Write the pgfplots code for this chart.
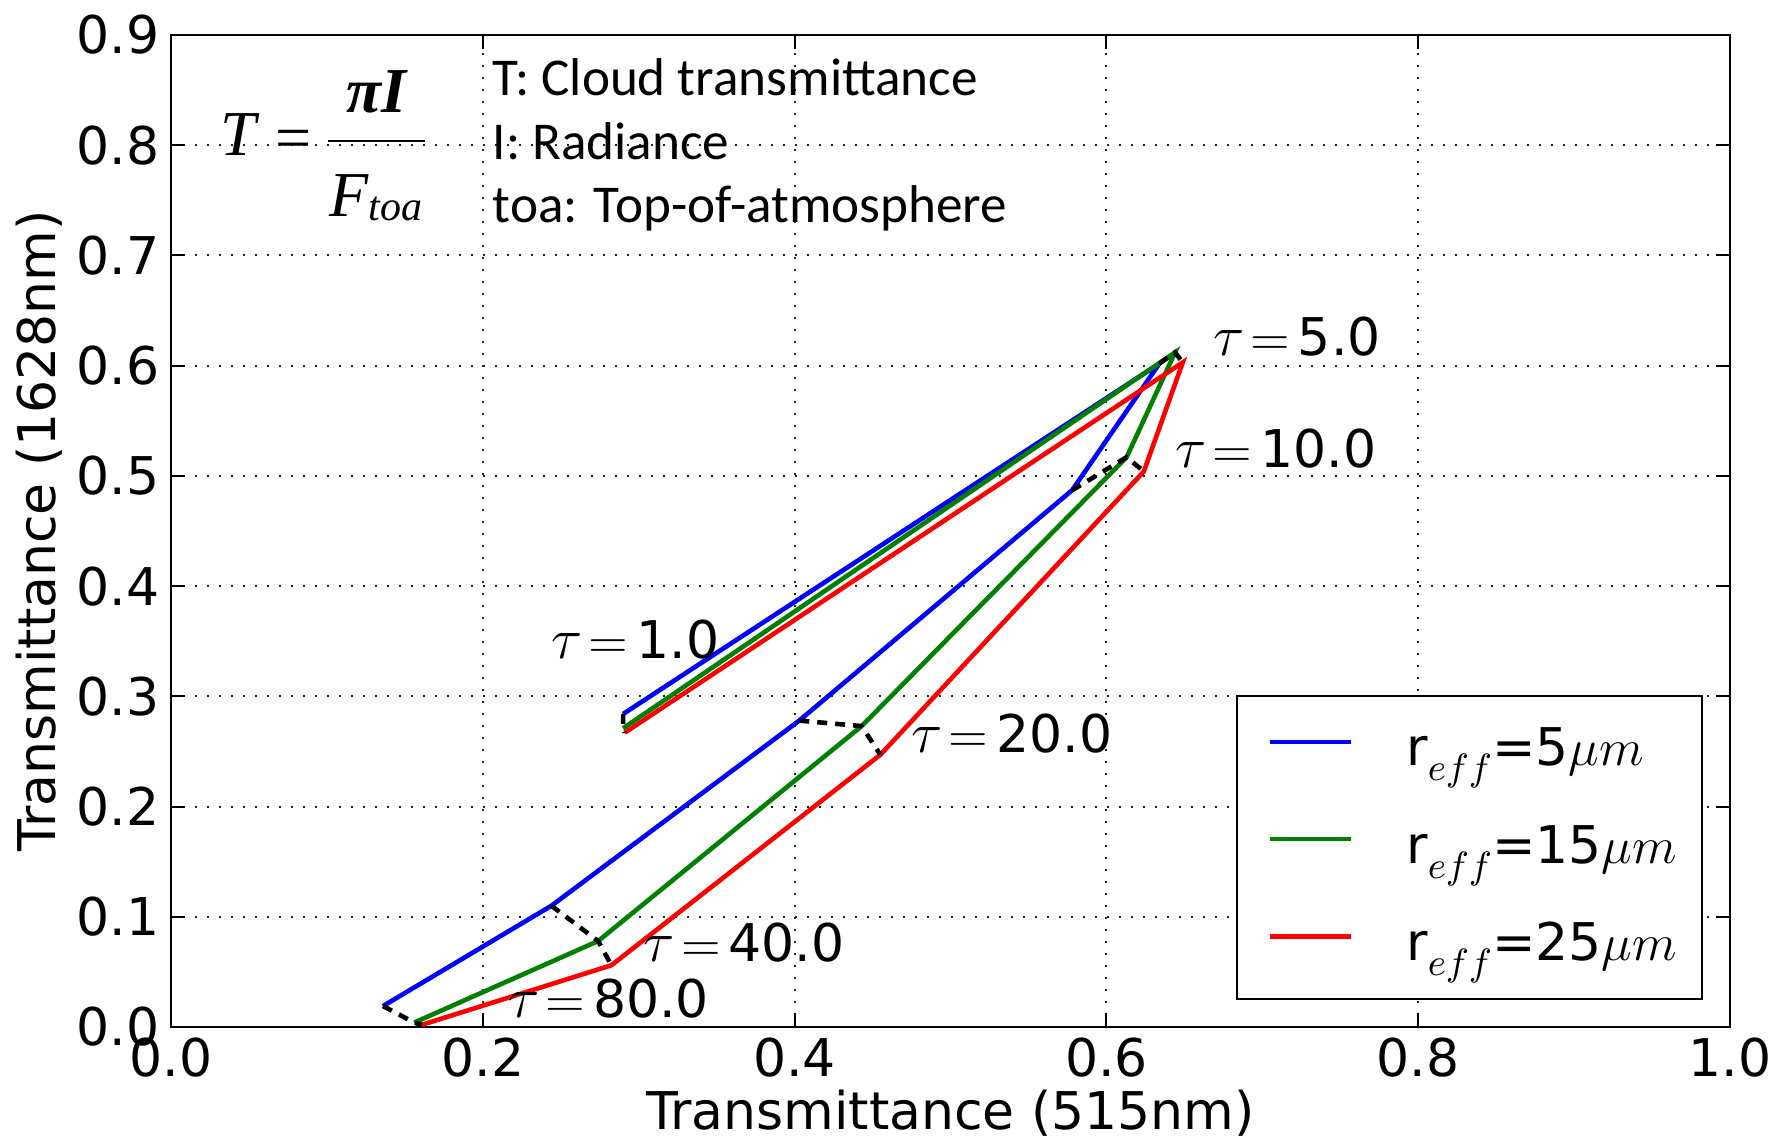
\RequirePackage{fix-cm}
\documentclass[border=0pt]{standalone}
\usepackage[no-math]{fontspec}
\setmainfont{DejaVu Sans}
\newfontfamily\carlito{Carlito}
\newfontfamily\eqf{Liberation Serif}
\usepackage{pgfplots}
\pgfplotsset{compat=1.18}
\definecolor{mplgreen}{rgb}{0,0.5,0}
\newcommand\taulab[1]{{\fontsize{14.5}{16}\selectfont$\tau$}\kern1.5pt$=$\kern2pt#1}
\newcommand\reff[1]{r\raisebox{-3.75pt}{\fontsize{9.5}{11}\selectfont$eff$}=#1{$\mu m$}}
\begin{document}
\begin{tikzpicture}[font=\fontsize{13}{15.6}\selectfont]
\useasboundingbox (0,0) rectangle (442.75pt,284.5pt);
\begin{axis}[
  at={(42.75pt,27.75pt)}, anchor=south west,
  width=389.75pt, height=248pt, scale only axis,
  xmin=0, xmax=1, ymin=0, ymax=0.9,
  xtick={0,0.2,0.4,0.6,0.8,1.0},
  ytick={0,0.1,0.2,0.3,0.4,0.5,0.6,0.7,0.8,0.9},
  /pgf/number format/assume math mode=true,
  /pgf/number format/.cd, fixed, fixed zerofill, precision=1, /pgfplots/.cd,
  tick align=inside, major tick length=3.5pt,
  xtick pos=both, ytick pos=both,
  tick style={black, line width=0.5pt},
  axis line style={line width=0.6pt},
  grid=major,
  major grid style={black!85, line width=0.5pt, dash pattern=on 0.6pt off 2.4pt},
  xticklabel style={anchor=north, inner sep=0pt, yshift=-2.5pt},
  yticklabel style={anchor=east, inner sep=0pt, xshift=-2.75pt},
  xlabel={Transmittance (515nm)},
  ylabel={Transmittance (1628nm)},
  xlabel style={at={(axis description cs:0.5,-0.1038)}, anchor=base, inner sep=0pt},
  ylabel style={at={(axis description cs:-0.0744,0.5)}, anchor=base, inner sep=0pt},
  legend style={at={(1,0)}, anchor=south east, xshift=-6.75pt, yshift=6.75pt,
    draw=black, line width=0.6pt, inner xsep=6.2pt, inner ysep=8pt,
    row sep=13.3pt, column sep=13.3pt,
    nodes={inner sep=0pt}, font=\fontsize{13}{15.6}\selectfont},
  legend cell align=left,
  legend image code/.code={\path (0pt,2pt); \draw[#1, line width=1.15pt] (1.45pt,2pt) -- (21.7pt,2pt);},
]
\addplot[blue, line width=1.15pt] coordinates {
 (0.290,0.284) (0.634,0.602) (0.578,0.487) (0.403,0.278) (0.244,0.110) (0.136,0.019)};
\addlegendentry{\reff{5}}
\addplot[mplgreen, line width=1.15pt] coordinates {
 (0.290,0.271) (0.644,0.612) (0.613,0.517) (0.443,0.273) (0.274,0.078) (0.156,0.004)};
\addlegendentry{\reff{15}}
\addplot[red, line width=1.15pt] coordinates {
 (0.291,0.267) (0.649,0.603) (0.624,0.504) (0.455,0.247) (0.2825,0.056) (0.161,0.002)};
\addlegendentry{\reff{25}}
% dashed iso-tau lines
\addplot[black, line width=1.15pt, dash pattern=on 2.5pt off 2pt, forget plot] coordinates {(0.290,0.284) (0.290,0.271) (0.291,0.267)};
\addplot[black, line width=1.15pt, dash pattern=on 2.5pt off 2pt, forget plot] coordinates {(0.634,0.602) (0.644,0.612) (0.649,0.603)};
\addplot[black, line width=1.15pt, dash pattern=on 2.5pt off 2pt, forget plot] coordinates {(0.578,0.487) (0.613,0.517) (0.624,0.504)};
\addplot[black, line width=1.15pt, dash pattern=on 2.5pt off 2pt, forget plot] coordinates {(0.403,0.278) (0.443,0.273) (0.455,0.247)};
\addplot[black, line width=1.15pt, dash pattern=on 2.5pt off 2pt, forget plot] coordinates {(0.244,0.110) (0.274,0.078) (0.2825,0.056)};
\addplot[black, line width=1.15pt, dash pattern=on 2.5pt off 2pt, forget plot] coordinates {(0.136,0.019) (0.156,0.004) (0.161,0.002)};
% tau labels
\node[anchor=base west, inner sep=0pt] at (axis cs:0.2437,0.334) {\taulab{1.0}};
\node[anchor=base west, inner sep=0pt] at (axis cs:0.668,0.609) {\taulab{5.0}};
\node[anchor=base west, inner sep=0pt] at (axis cs:0.644,0.508) {\taulab{10.0}};
\node[anchor=base west, inner sep=0pt] at (axis cs:0.4747,0.2495) {\taulab{20.0}};
\node[anchor=base west, inner sep=0pt] at (axis cs:0.3028,0.059) {\taulab{40.0}};
\node[anchor=base west, inner sep=0pt] at (axis cs:0.216,0.009) {\taulab{80.0}};
% annotation text
\node[anchor=base west, inner sep=0pt, font=\carlito\fontsize{13.3}{15}\selectfont] at (axis cs:0.2059,0.8448) {T: Cloud transmittance};
\node[anchor=base west, inner sep=0pt, font=\carlito\fontsize{13.3}{15}\selectfont] at (axis cs:0.2059,0.7872) {I: Radiance};
\node[anchor=base west, inner sep=0pt, font=\carlito\fontsize{13.3}{15}\selectfont] at (axis cs:0.2059,0.7296) {toa: Top-of-atmosphere};
% equation
\node[anchor=base west, inner sep=0pt] at (axis cs:0.031,0.7904) {\eqf\itshape\fontsize{16}{10}\selectfont\renewcommand\arraystretch{0.5}%
 T\hspace{5pt}\raisebox{-0.8pt}{\upshape=}\hspace{4pt}\raisebox{-1.6pt}{\begin{tabular}{@{\hspace{0.5pt}}c@{\hspace{0.5pt}}}{\bfseries πI}\rule[-7pt]{0pt}{16.1pt}\\\hline
 \rule{0pt}{18.6pt}F\raisebox{-1pt}{\fontsize{10.5}{10}\selectfont toa}\end{tabular}}};
\end{axis}
\end{tikzpicture}
\end{document}
